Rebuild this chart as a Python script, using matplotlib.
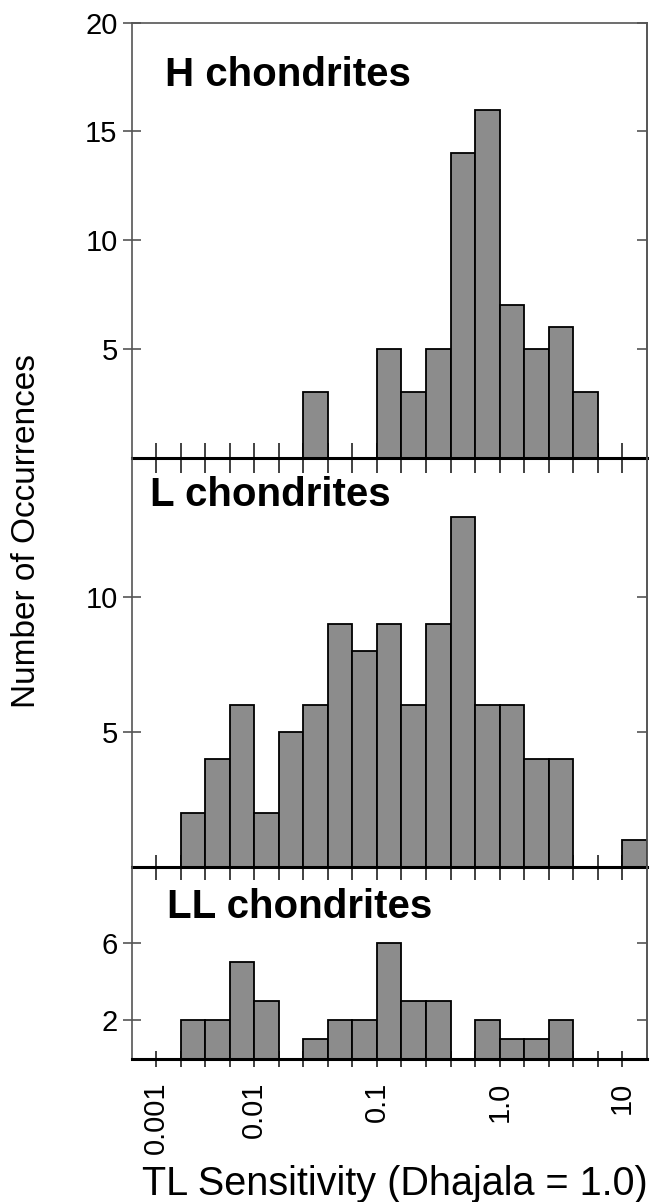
import numpy as np
import matplotlib.pyplot as plt
from matplotlib.ticker import FixedLocator, NullFormatter

plt.rcParams['font.family'] = ['Liberation Sans', 'DejaVu Sans']

# bins: 0.2 log10 wide, starting at 0.001
log_start = -3.0
log_step = 0.2
n_bins = 21
edges = 10 ** (log_start + log_step * np.arange(n_bins + 1))

# counts per bin (bin 0 = 0.001 .. 10^-2.8)
h_counts = [0, 0, 0, 0, 0, 0, 0, 3, 0, 0, 5, 3, 5, 14, 16, 7, 5, 6, 3, 0, 0]
l_counts = [0, 0, 2, 4, 6, 2, 5, 6, 9, 8, 9, 6, 9, 13, 6, 6, 4, 4, 0, 0, 1]
ll_counts = [0, 0, 2, 2, 5, 3, 0, 1, 2, 2, 6, 3, 3, 0, 2, 1, 1, 2, 0, 0, 0]

panel_names = ['H chondrites', 'L chondrites', 'LL chondrites']
panel_counts = [h_counts, l_counts, ll_counts]
panel_ymax = [20, 15.2, 9.95]
panel_yticks = [[5, 10, 15, 20], [5, 10], [2, 6]]

xtick_labels = ['0.001', '0.01', '0.1', '1.0', '10']
xtick_label_logs = [-2.8, -2.0, -1.0, 0.0, 1.0]

W, H = 652, 1202
fig = plt.figure(figsize=(W / 100, H / 100), dpi=100)

left_px, right_px = 131.7, 646.7
bounds_px = [22.7, 457.5, 866.5, 1058.5]
title_pos = [(0.064, 0.854), (0.036, 0.881), (0.068, 0.732)]
xtick_len = [21, 18, 11.5]

frame_col = '#555555'
axes = []
for i in range(3):
    top, bot = bounds_px[i], bounds_px[i + 1]
    ax = fig.add_axes([left_px / W, 1 - bot / H, (right_px - left_px) / W, (bot - top) / H])
    ax.set_facecolor('none')
    counts = np.array(panel_counts[i])
    m = counts > 0
    ax.bar(edges[:-1][m], counts[m], width=np.diff(edges)[m], align='edge',
           color='#8c8c8c', edgecolor='black', linewidth=1.3, zorder=2)
    ax.set_xscale('log')
    ax.set_xlim(edges[0], edges[-1])
    ax.set_ylim(0, panel_ymax[i])

    major = 10 ** np.array(xtick_label_logs)
    if i == 2:
        ax.set_xticks(major, xtick_labels, rotation=90)
    else:
        ax.set_xticks(major, [''] * len(major))
    ax.xaxis.set_minor_locator(FixedLocator(edges[1:-1]))
    ax.xaxis.set_minor_formatter(NullFormatter())
    ax.tick_params(axis='x', which='both', direction='inout', length=xtick_len[i],
                   width=1.3, color='#333333', labelsize=21, pad=11,
                   labelbottom=(i == 2))

    ax.set_yticks(panel_yticks[i])
    ax.tick_params(axis='y', direction='inout', length=13, width=1.2,
                   color=frame_col, labelsize=21, pad=3.7)
    sec = ax.secondary_yaxis('right')
    sec.set_yticks(panel_yticks[i], [''] * len(panel_yticks[i]))
    sec.tick_params(axis='y', direction='in', length=7, width=1.2, color=frame_col)
    sec.spines['right'].set_color(frame_col)
    sec.spines['right'].set_linewidth(1.2)

    for s in ['left', 'right', 'top']:
        ax.spines[s].set_color(frame_col)
        ax.spines[s].set_linewidth(1.2)
    if i > 0:
        ax.spines['top'].set_visible(False)
    ax.spines['bottom'].set_color('black')
    ax.spines['bottom'].set_linewidth(2.2)

    ax.text(title_pos[i][0], title_pos[i][1], panel_names[i], transform=ax.transAxes,
            fontsize=29, fontweight='bold', ha='left', va='baseline')
    axes.append(ax)

fig.text(394.5 / W, 1 - 1195 / H, 'TL Sensitivity (Dhajala = 1.0)', fontsize=28.5,
         ha='center', va='baseline')
fig.text(27 / W, 1 - 531 / H, 'Number of Occurrences', rotation=90, fontsize=24,
         ha='center', va='center')

fig.savefig('out.png', dpi=100)
